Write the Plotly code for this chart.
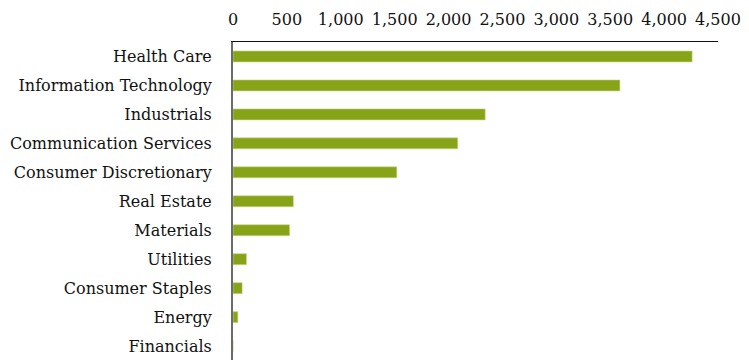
import plotly.graph_objects as go

sectors = ["Health Care", "Information Technology", "Industrials",
           "Communication Services", "Consumer Discretionary", "Real Estate",
           "Materials", "Utilities", "Consumer Staples", "Energy", "Financials"]
values = [4260, 3590, 2340, 2085, 1520, 560, 525, 125, 85, 45, 0]
tick_vals = [0, 500, 1000, 1500, 2000, 2500, 3000, 3500, 4000, 4500]
tick_text = ["0", "500", "1,000", "1,500", "2,000", "2,500", "3,000", "3,500", "4,000", "4,500"]

bar_color = "#87A317"

fig = go.Figure(go.Bar(
    y=sectors, x=values, orientation="h",
    marker=dict(color=bar_color, line=dict(color="#C9D98F", width=0.6)),
    width=0.38,
))

fig.update_layout(
    width=741, height=352,
    margin=dict(l=225, r=31, t=34, b=0, autoexpand=False),
    paper_bgcolor="white", plot_bgcolor="white",
    font=dict(family="DejaVu Serif", size=16, color="#111111"),
    showlegend=False,
    bargap=0.6,
)
fig.update_xaxes(
    side="top", range=[0, 4500], tickvals=tick_vals, ticktext=tick_text,
    showgrid=False, zeroline=False, showline=True, linecolor="#111111", linewidth=1.2,
    ticks="", ticklabelstandoff=10, tickfont=dict(size=16), automargin=False,
)
fig.update_yaxes(
    categoryorder="array", categoryarray=sectors,
    range=[10.48, -0.5], showgrid=False, zeroline=False,
    showline=True, linecolor="#6b6b6b", linewidth=2,
    ticks="", ticklabelstandoff=16, automargin=False,
)

fig.write_html("out.html")
